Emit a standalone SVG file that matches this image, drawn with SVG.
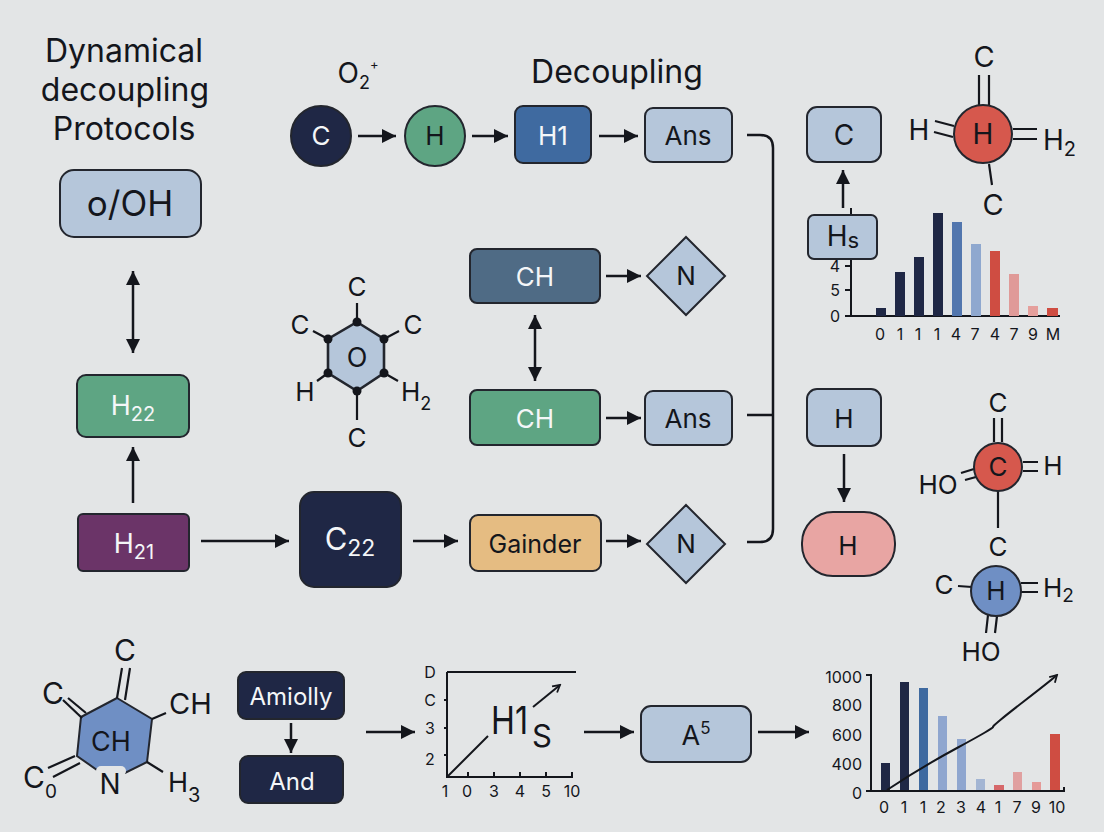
<svg xmlns="http://www.w3.org/2000/svg" width="1104" height="832" viewBox="0 0 1104 832">
<style>
text{font-family:Inter,"Liberation Sans",Arial,sans-serif;fill:#14161c;text-anchor:middle}
.s{stroke:#23262e;stroke-width:2}
.lb{fill:#b5c6da}
.dk{fill:#1f2745}
.gr{fill:#5ea583}
.t28{font-size:28px}
.t26{font-size:26px}
.t16{font-size:16px}
.l{fill:none;stroke:#14161c;stroke-width:2.5}
.b{fill:none;stroke:#14161c;stroke-width:2.2}
.ax{fill:none;stroke:#14161c;stroke-width:2}
.lt{fill:#f4f6f8}
</style>
<defs>
<marker id="ah" markerUnits="userSpaceOnUse" markerWidth="16" markerHeight="16" refX="15" refY="8" orient="auto-start-reverse"><path d="M1 1L15 8L1 15Z" fill="#14161c"/></marker>
<marker id="sm" markerUnits="userSpaceOnUse" markerWidth="10" markerHeight="10" refX="8" refY="5" orient="auto"><path d="M1 1L8 5L1 9" fill="none" stroke="#14161c" stroke-width="1.8"/></marker>
</defs>
<rect width="1104" height="832" fill="#e3e5e6"/>

<g id="title">
<text x="124" y="62" font-size="32">Dynamical</text>
<text x="125" y="101" font-size="32">decoupling</text>
<text x="124" y="140" font-size="32">Protocols</text>
<text x="617" y="83" font-size="32">Decoupling</text>
<text x="358" y="83" font-size="28">O<tspan font-size="18" dy="6">2</tspan><tspan font-size="13" dy="-20">+</tspan></text>
</g>

<g id="connectors">
<path class="l" marker-start="url(#ah)" marker-end="url(#ah)" d="M133 271V353"/>
<path class="l" marker-end="url(#ah)" d="M133 503V447"/>
<path class="l" marker-end="url(#ah)" d="M201 541H289"/>
<path class="l" marker-end="url(#ah)" d="M413 541H458"/>
<path class="l" marker-end="url(#ah)" d="M606 541H641"/>
<path class="l" marker-end="url(#ah)" d="M358 136H396"/>
<path class="l" marker-end="url(#ah)" d="M472 136H508"/>
<path class="l" marker-end="url(#ah)" d="M599 136H638"/>
<path class="l" marker-end="url(#ah)" d="M606 276H641"/>
<path class="l" marker-end="url(#ah)" d="M606 418H641"/>
<path class="l" marker-start="url(#ah)" marker-end="url(#ah)" d="M535 315V381"/>
<path class="l" d="M747 135H760Q773 135 773 148V529Q773 542 760 542H747M747 415H773"/>
<path class="l" marker-end="url(#ah)" d="M843 208V170"/>
<path class="l" marker-end="url(#ah)" d="M844 454V502"/>
<path class="l" marker-end="url(#ah)" d="M291 723V753"/>
<path class="l" marker-end="url(#ah)" d="M366 732H415"/>
<path class="l" marker-end="url(#ah)" d="M584 732H634"/>
<path class="l" marker-end="url(#ah)" d="M758 732H809"/>
</g>

<g id="n-ooh"><rect class="s lb" x="60" y="170" width="141" height="67" rx="14"/><text x="130" y="216" font-size="35">o/OH</text></g>
<g id="n-h22"><rect class="s gr" x="77" y="375" width="112" height="62" rx="9"/><text class="lt" font-size="27" x="133" y="415">H<tspan font-size="20" dy="6">22</tspan></text></g>
<g id="n-h21"><rect class="s" fill="#6b3468" x="78" y="514" width="111" height="57" rx="5"/><text class="lt" font-size="27" x="134" y="553">H<tspan font-size="20" dy="6">21</tspan></text></g>
<g id="n-c22"><rect class="s dk" x="300" y="492" width="101" height="95" rx="14"/><text class="lt" font-size="31" x="350" y="550">C<tspan font-size="23" dy="6">22</tspan></text></g>
<g id="n-gainder"><rect class="s" fill="#e5bc82" x="470" y="515" width="131" height="56" rx="8"/><text x="535" y="553" font-size="25">Gainder</text></g>
<g id="n-n1"><path class="s lb" d="M686 505L725 544L686 583L647 544Z"/><text class="t26" x="686" y="553">N</text></g>
<g id="n-c0"><circle class="s dk" cx="321" cy="136" r="30"/><text class="t26 lt" x="321" y="145">C</text></g>
<g id="n-h0"><circle class="s gr" cx="435" cy="136" r="30"/><text class="t26" x="435" y="145">H</text></g>
<g id="n-h1"><rect class="s" fill="#3f6aa0" x="515" y="106" width="76" height="57" rx="8"/><text class="t26 lt" x="553" y="145">H1</text></g>
<g id="n-ans1"><rect class="s lb" x="645" y="108" width="87" height="54" rx="8"/><text class="t26" x="688" y="145">Ans</text></g>
<g id="n-ch1"><rect class="s" fill="#4f6b85" x="470" y="249" width="130" height="54" rx="7"/><text class="t26 lt" x="535" y="286">CH</text></g>
<g id="n-n2"><path class="s lb" d="M686 237L725 276L686 315L647 276Z"/><text class="t26" x="686" y="285">N</text></g>
<g id="n-ch2"><rect class="s gr" x="470" y="390" width="130" height="55" rx="7"/><text class="t26 lt" x="535" y="428">CH</text></g>
<g id="n-ans2"><rect class="s lb" x="645" y="391" width="87" height="54" rx="8"/><text class="t26" x="688" y="428">Ans</text></g>
<g id="n-c1"><rect class="s lb" x="807" y="107" width="74" height="55" rx="10"/><text class="t28" x="844" y="145">C</text></g>
<g id="n-h2"><rect class="s lb" x="807" y="389" width="74" height="57" rx="10"/><text class="t26" x="844" y="428">H</text></g>
<g id="n-h3"><rect class="s" fill="#e8a5a3" x="802" y="512" width="93" height="64" rx="31"/><text class="t26" x="848" y="555">H</text></g>

<g id="chart-top">
<path class="ax" d="M851 208V316M845 266H851M845 290H851M845 316H1060"/>
<rect x="876" y="308" width="10" height="8" fill="#1f2745"/>
<rect x="895" y="272" width="10" height="44" fill="#1f2745"/>
<rect x="914" y="257" width="10" height="59" fill="#1f2745"/>
<rect x="933" y="213" width="10" height="103" fill="#1f2745"/>
<rect x="952" y="222" width="10" height="94" fill="#5276ae"/>
<rect x="971" y="244" width="10" height="72" fill="#8fa8cf"/>
<rect x="990" y="251" width="10" height="65" fill="#cf4d42"/>
<rect x="1009" y="274" width="10" height="42" fill="#e09a98"/>
<rect x="1028" y="306" width="10" height="10" fill="#e59f9c"/>
<rect x="1047" y="308" width="11" height="8" fill="#cf4d42"/>
<g class="t16"><text x="835" y="272">4</text><text x="835" y="296">5</text><text x="835" y="322">0</text>
<text x="880" y="340">0</text><text x="900" y="340">1</text><text x="918" y="340">1</text><text x="937" y="340">1</text><text x="956" y="340">4</text><text x="975" y="340">7</text><text x="995" y="340">4</text><text x="1014" y="340">7</text><text x="1033" y="340">9</text><text x="1053" y="340">M</text></g>
</g>
<g id="n-hs"><rect class="s lb" x="808" y="215" width="69" height="44" rx="6"/><text class="t28" x="843" y="246">H<tspan font-size="22" dy="2">s</tspan></text></g>

<g id="mol-top">
<path class="b" d="M979 75V106M989 75V106M935 121L954 126M934 132L953 137M1013 129H1037M1013 139H1037M989 164L992 185"/>
<circle class="s" fill="#d6584d" cx="983" cy="134" r="29"/>
<text font-size="29" x="984" y="67">C</text><text class="t28" x="983" y="144">H</text><text font-size="28" x="919" y="140">H</text><text font-size="28" x="1043" y="150" style="text-anchor:start">H<tspan font-size="20" dy="6">2</tspan></text><text font-size="29" x="993" y="215">C</text>
</g>

<g id="mol-mid">
<path class="b" d="M994 418V442M1002 418V442M961 473L974 469M965 480L976 477M1023 462H1038M1023 471H1038M998 490V528M958 586L972 587M1021 583H1038M1021 592H1038M988 615L986 633M997 616L995 633"/>
<circle class="s" fill="#d6584d" cx="998" cy="467" r="24"/>
<circle class="s" fill="#6f8fc4" cx="996" cy="591" r="25"/>
<text class="t26" x="998" y="412">C</text><text class="t26" x="998" y="476">C</text><text class="t26" x="938" y="494">HO</text><text class="t26" x="1053" y="475">H</text><text class="t26" x="998" y="556">C</text><text class="t26" x="944" y="594">C</text><text class="t26" x="996" y="600">H</text><text class="t26" x="1043" y="597" style="text-anchor:start">H<tspan font-size="19" dy="5">2</tspan></text><text class="t26" x="981" y="661">HO</text>
</g>

<g id="mol-hex">
<path class="s lb" d="M357 322L384 339V373L357 391L328 373V339Z" style="stroke-width:2.6"/>
<path class="b" d="M357 303V322M384 339L399 331M328 339L313 331M384 373L398 381M328 373L317 381M357 391V420"/>
<g fill="#14161c"><circle cx="357" cy="322" r="4.5"/><circle cx="384" cy="339" r="4.5"/><circle cx="384" cy="373" r="4.5"/><circle cx="357" cy="391" r="4.5"/><circle cx="328" cy="373" r="4.5"/><circle cx="328" cy="339" r="4.5"/></g>
<text class="t26" x="357" y="296">C</text><text class="t26" x="300" y="334">C</text><text class="t26" x="413" y="334">C</text><text class="t26" x="305" y="401">H</text><text class="t26" x="401" y="401" style="text-anchor:start">H<tspan font-size="18" dy="9">2</tspan></text><text class="t26" x="357" y="447">C</text><text font-size="27" x="357" y="367">O</text>
</g>

<g id="mol-left">
<path d="M117 698L152 719L147 762L125 773L97 770L77 756L81 717Z" fill="#6f8fc4" stroke="#23262e" stroke-width="2"/>
<path class="b" d="M117 698L122 668M125 700L130 668M63 700L82 718M68 698L86 713M152 719L166 713M48 768L75 756M53 777L80 763M147 762L163 772"/>
<rect x="96" y="766" width="30" height="10" rx="5" fill="#e3e5e6"/>
<text font-size="30" x="125" y="661">C</text><text font-size="30" x="53" y="704">C</text><text font-size="29" x="169" y="714" style="text-anchor:start">CH</text><text font-size="27" x="111" y="751">CH</text><text font-size="28" x="110" y="794">N</text>
<text font-size="30" x="23" y="788" style="text-anchor:start">C<tspan font-size="19" dy="10">0</tspan></text>
<text font-size="27" x="168" y="792" style="text-anchor:start">H<tspan font-size="20" dy="10">3</tspan></text>
</g>

<g id="n-amiolly"><rect class="s dk" x="238" y="672" width="106" height="47" rx="8"/><text class="lt" font-size="24" x="291" y="705">Amiolly</text></g>
<g id="n-and"><rect class="s dk" x="240" y="756" width="103" height="47" rx="8"/><text class="lt" font-size="24" x="292" y="790">And</text></g>

<g id="chart-h1s">
<path class="ax" d="M447 672H576M447 672V777H573M444 700H447M444 728H447M444 755H447M468 772V777M494 772V777M520 772V777M546 772V777M572 772V777"/>
<path class="ax" d="M447 777L488 736"/>
<path class="ax" marker-end="url(#sm)" d="M533 707L560 685"/>
<g class="t16"><text x="430" y="678">D</text><text x="430" y="706">C</text><text x="430" y="734">3</text><text x="430" y="765">2</text>
<text x="445" y="797">1</text><text x="467" y="797">0</text><text x="494" y="797">3</text><text x="520" y="797">4</text><text x="546" y="797">5</text><text x="572" y="797">10</text></g>
<text font-size="38" x="491" y="734" textLength="37" lengthAdjust="spacingAndGlyphs" style="text-anchor:start">H1</text><text font-size="31" x="542" y="747">S</text>
</g>

<g id="n-a5"><rect class="s lb" x="641" y="706" width="110" height="56" rx="10"/><text font-size="27" x="696" y="745">A<tspan font-size="17" dy="-11">5</tspan></text></g>

<g id="chart-bottom">
<rect x="881" y="763" width="9" height="28" fill="#1f2745"/>
<rect x="900" y="682" width="9" height="109" fill="#1f2745"/>
<rect x="919" y="688" width="9" height="103" fill="#3f6aa0"/>
<rect x="938" y="716" width="9" height="75" fill="#8fa6cf"/>
<rect x="957" y="739" width="9" height="52" fill="#8fa6cf"/>
<rect x="976" y="779" width="9" height="12" fill="#a3b5d3"/>
<rect x="994" y="785" width="10" height="6" fill="#d6686a"/>
<rect x="1013" y="772" width="9" height="19" fill="#e0a0a0"/>
<rect x="1032" y="782" width="9" height="9" fill="#e59a98"/>
<rect x="1050" y="734" width="10" height="57" fill="#cf4d42"/>
<path class="ax" d="M866 675H871V791M866 791H1064V787"/>
<path class="ax" marker-end="url(#sm)" d="M887 790Q920 768 957 748T993 727T1023 702T1057 675"/>
<g font-size="16"><text x="862" y="683" style="text-anchor:end">1000</text><text x="862" y="711" style="text-anchor:end">800</text><text x="862" y="741" style="text-anchor:end">600</text><text x="862" y="770" style="text-anchor:end">400</text><text x="862" y="799" style="text-anchor:end">0</text>
<text x="884" y="813">0</text><text x="904" y="813">1</text><text x="923" y="813">1</text><text x="941" y="813">2</text><text x="961" y="813">3</text><text x="981" y="813">4</text><text x="998" y="813">1</text><text x="1017" y="813">7</text><text x="1036" y="813">9</text><text x="1057" y="813">10</text></g>
</g>
</svg>
